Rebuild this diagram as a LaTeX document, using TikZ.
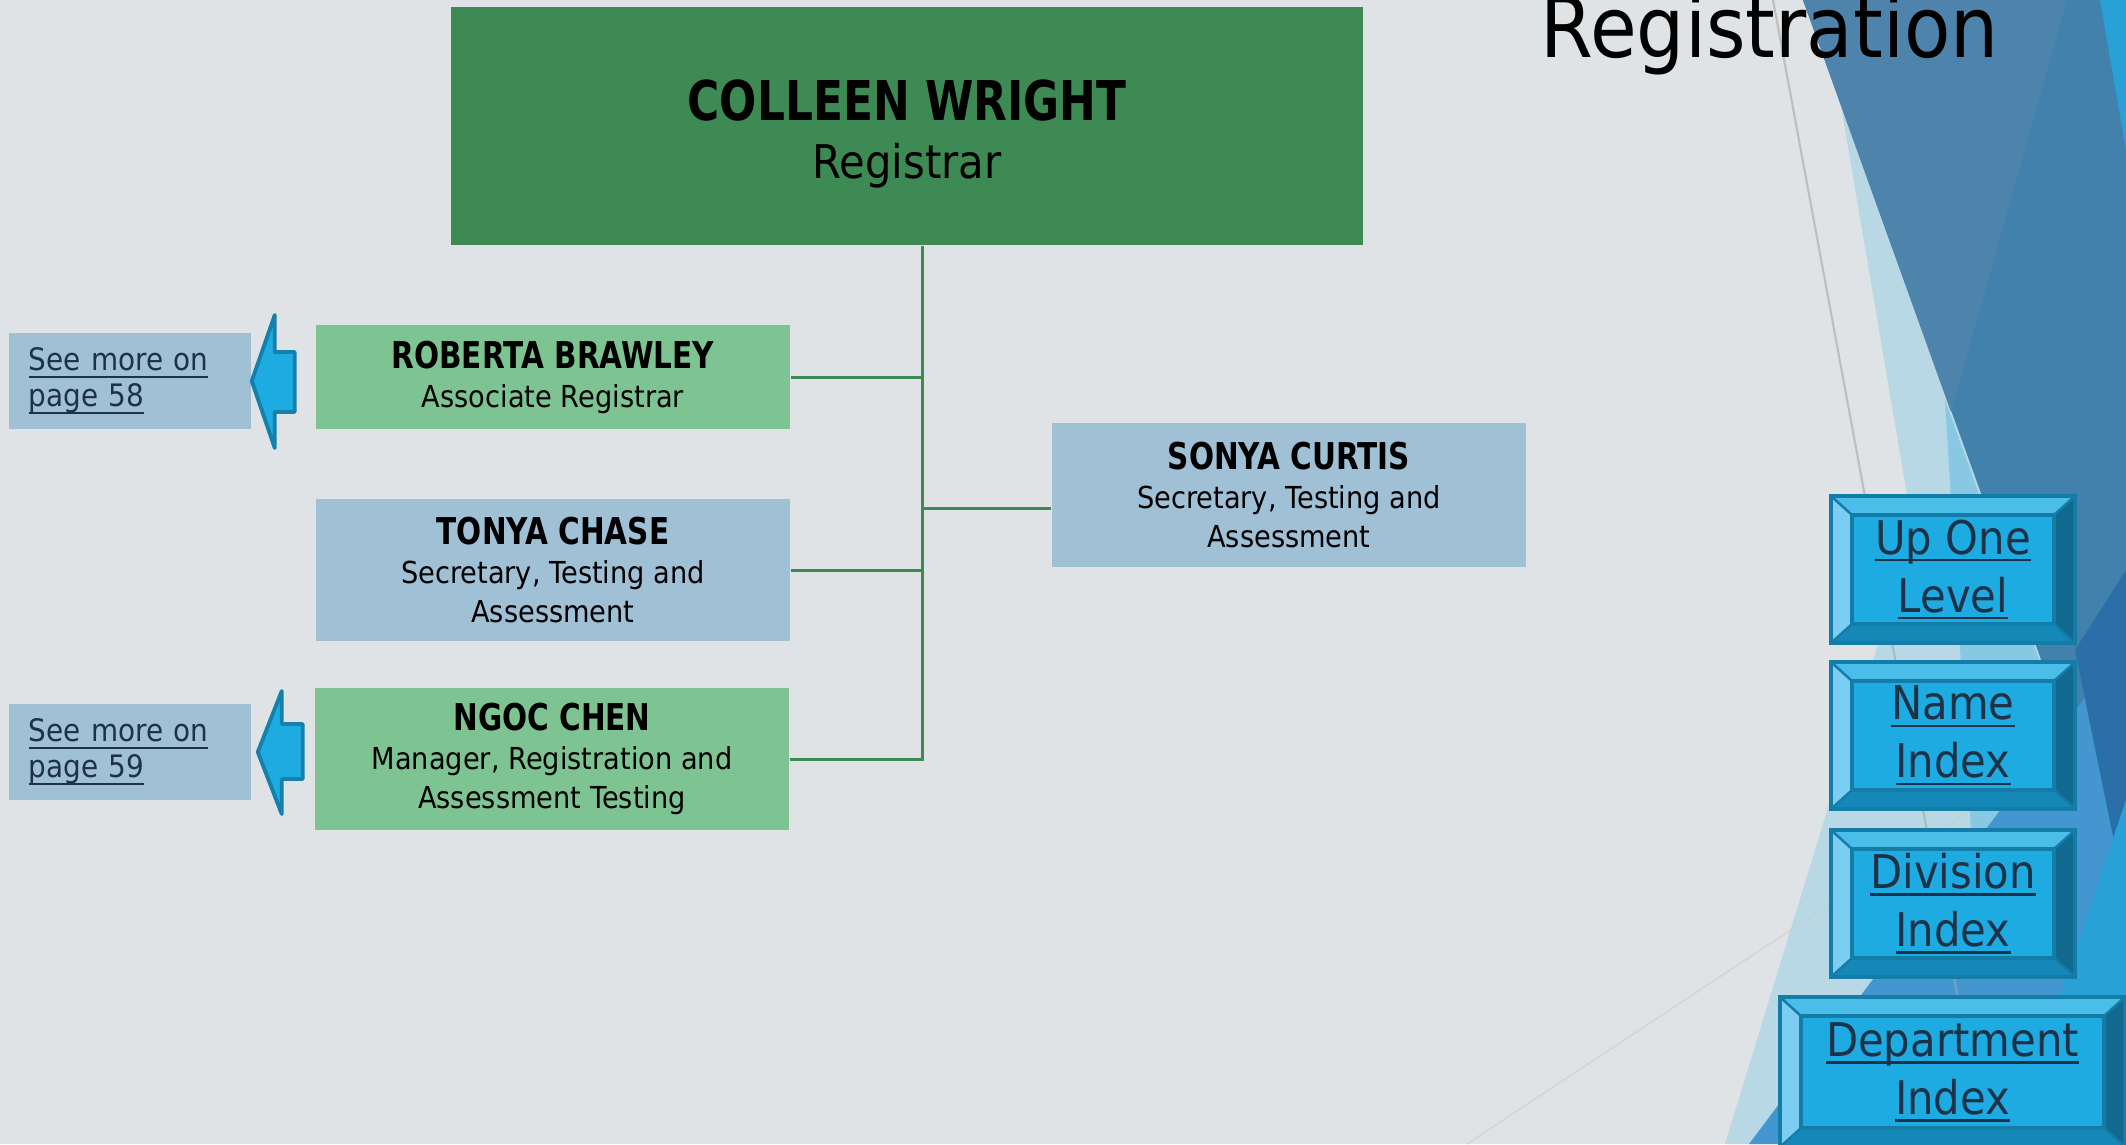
\documentclass[tikz,border=0pt]{standalone}
\usepackage{fontspec}
\setmainfont{DejaVu Sans}[FakeStretch=0.9,BoldFeatures={FakeStretch=0.8}]

\definecolor{bggrey}{HTML}{E0E3E6}
\definecolor{bgpale}{HTML}{B7D8E4}
\definecolor{bglight}{HTML}{89C8E2}
\definecolor{bgsteel}{HTML}{4181AC}
\definecolor{bgslate}{HTML}{4E84AC}
\definecolor{bgbright}{HTML}{2AA0D8}
\definecolor{bgmid}{HTML}{4396CF}
\definecolor{bgdark}{HTML}{2A6FA7}
\definecolor{bossgreen}{HTML}{3E8A55}
\definecolor{lightgreen}{HTML}{7EC492}
\definecolor{paleblue}{HTML}{A0C0D6}
\definecolor{arrowblue}{HTML}{1EABE2}
\definecolor{arrowedge}{HTML}{1580AA}
\definecolor{linktext}{HTML}{1D3246}
\definecolor{btnface}{HTML}{1EABE2}
\definecolor{btntop}{HTML}{4ABDE9}
\definecolor{btnleft}{HTML}{7BCDF1}
\definecolor{btnright}{HTML}{12698F}
\definecolor{btnbot}{HTML}{1688B8}
\definecolor{btnline}{HTML}{137DA8}

% underlined link text
\newcommand{\lnk}[1]{\leavevmode\setbox0=\hbox{#1}\rlap{\rule[-2.1pt]{\wd0}{0.7pt}}\box0}

% bevelled button: name, x1, y1, x2, y2, text
\newcommand{\bevbtn}[6]{%
  \fill[btnface] (#2,#3) rectangle (#4,#5);
  \fill[btntop] (#2,#3) -- (#4,#3) -- (#4-21,#3+19) -- (#2+21,#3+19) -- cycle;
  \fill[btnbot] (#2,#5) -- (#4,#5) -- (#4-21,#5-19) -- (#2+21,#5-19) -- cycle;
  \fill[btnleft] (#2,#3) -- (#2+21,#3+19) -- (#2+21,#5-19) -- (#2,#5) -- cycle;
  \fill[btnright] (#4,#3) -- (#4-21,#3+19) -- (#4-21,#5-19) -- (#4,#5) -- cycle;
  \draw[btnline, line width=0.9pt] (#2+21,#3+19) rectangle (#4-21,#5-19);
  \draw[btnline, line width=0.7pt] (#2,#3) -- (#2+21,#3+19) (#4,#3) -- (#4-21,#3+19)
    (#2,#5) -- (#2+21,#5-19) (#4,#5) -- (#4-21,#5-19);
  \draw[btnline, line width=1.4pt] (#2,#3) rectangle (#4,#5);
  \node[btntext] (#1) at ({(#2+#4)/2},{(#3+#5)/2}) {#6};
}

\begin{document}
\begin{tikzpicture}[x=0.01cm,y=-0.01cm,
    person/.style={minimum width=4.74cm, inner sep=0, align=center,
      font=\fontsize{8.6}{11.1}\selectfont},
    greenbox/.style={person, fill=lightgreen},
    bluebox/.style={person, fill=paleblue},
    seemore/.style={fill=paleblue, minimum height=0.96cm, text width=2.02cm,
      inner xsep=0.2cm, inner ysep=0, align=left, text=linktext,
      font=\fontsize{8.8}{10.2}\selectfont},
    conn/.style={draw=bossgreen, line width=0.85pt},
    pointer/.style={fill=arrowblue, draw=arrowedge, line width=1.1pt, line join=round},
    btntext/.style={align=center, inner sep=0, text=linktext,
      font=\fontsize{13.2}{16.5}\selectfont}]
  \useasboundingbox (0,0) rectangle (2126,1144);

  % background
  \fill[bggrey] (0,0) rectangle (2126,1144);
  \fill[bgpale] (1823,0) -- (1913,530) -- (1725,1144) -- (2126,1144) -- (2126,0) -- cycle;
  \fill[bglight] (1945,400) -- (2126,900) -- (2126,1144) -- (1990,1144) -- cycle;
  \fill[bgsteel] (1803,0) -- (2126,0) -- (2126,895) -- cycle;
  \fill[bgslate] (1803,0) -- (2067,0) -- (1951,412) -- cycle;
  \fill[bgbright] (2100,0) -- (2126,0) -- (2126,150) -- cycle;
  \fill[bgmid] (1749,1144) -- (2126,643) -- (2126,1144) -- cycle;
  \fill[bgdark] (2075,650) -- (2126,570) -- (2126,900) -- cycle;
  \fill[bgbright] (2126,800) -- (2126,1144) -- (2010,1144) -- cycle;
  \draw[black!35, opacity=0.6, line width=0.6pt] (1773,0) -- (1985,1144);
  \draw[black!20, opacity=0.6, line width=0.45pt] (1467,1144) -- (2040,765);

  \node[anchor=base west, inner sep=0, font=\fontsize{24}{28}\selectfont] (title)
    at (1540,57) {Registration};

  % chart
  \node[fill=bossgreen, minimum width=9.12cm, minimum height=2.38cm, inner sep=0,
    align=center, font=\fontsize{13.2}{16.6}\selectfont] (registrar) at (907,126)
    {\rule{0pt}{16pt}{\fontsize{15.6}{16.6}\selectfont\bfseries COLLEEN WRIGHT}\\Registrar};
  \node[greenbox, minimum height=1.03cm] (roberta) at (553,377)
    {{\fontsize{10.5}{11.1}\selectfont\bfseries ROBERTA BRAWLEY}\\Associate Registrar};
  \node[bluebox, minimum height=1.42cm] (tonya) at (553,570)
    {{\fontsize{10.5}{11.1}\selectfont\bfseries TONYA CHASE}\\Secretary, Testing and\\Assessment};
  \node[greenbox, minimum height=1.42cm] (ngoc) at (552,759)
    {{\fontsize{10.5}{11.1}\selectfont\bfseries NGOC CHEN}\\Manager, Registration and\\Assessment Testing};
  \node[bluebox, minimum height=1.43cm] (sonya) at (1289,495)
    {{\fontsize{10.5}{11.1}\selectfont\bfseries SONYA CURTIS}\\Secretary, Testing and\\Assessment};

  \coordinate (trunk) at (922,245);
  \coordinate (sonyajoin) at (922,508);
  \draw[conn] (registrar.south -| trunk) -- (trunk |- ngoc.east) -- (ngoc.east);
  \draw[conn] (roberta.east) -- (roberta.east -| trunk);
  \draw[conn] (tonya.east) -- (tonya.east -| trunk);
  \draw[conn] (sonyajoin) -- (sonyajoin -| sonya.west);

  % links to other pages
  \node[seemore] (more58) at (130,381) {\lnk{See more on}\\\lnk{page 58}};
  \node[seemore] (more59) at (130,752) {\lnk{See more on}\\\lnk{page 59}};
  \draw[pointer] (more58.east) -- ++(23,-66) -- ++(0,37) -- ++(20,0) -- ++(0,60)
    -- ++(-20,0) -- ++(0,36) -- cycle;
  \draw[pointer] ([xshift=0.06cm]more59.east) -- ++(24,-61) -- ++(0,33) -- ++(21,0)
    -- ++(0,55) -- ++(-21,0) -- ++(0,35) -- cycle;

  % navigation
  \bevbtn{uplevel}{1831}{496}{2075}{643}{\lnk{Up One}\\\lnk{Level}}
  \bevbtn{nameidx}{1831}{662}{2075}{809}{\lnk{Name}\\\lnk{Index}}
  \bevbtn{dividx}{1831}{830}{2075}{977}{\lnk{Division}\\\lnk{Index}}
  \bevbtn{deptidx}{1780}{997}{2125}{1147}{\lnk{Department}\\\lnk{Index}}
\end{tikzpicture}
\end{document}
